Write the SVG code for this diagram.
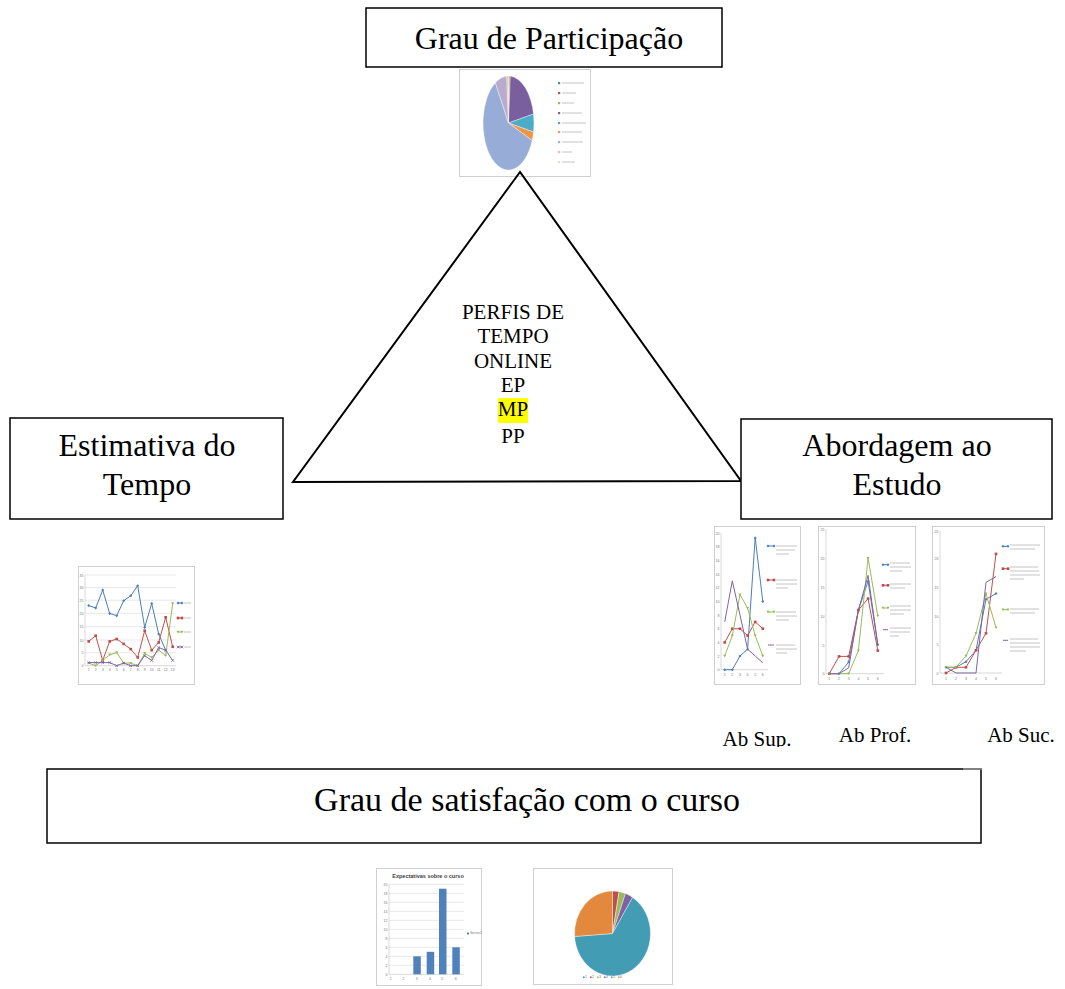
<svg xmlns="http://www.w3.org/2000/svg" width="1065" height="989" viewBox="0 0 1065 989">
<style>
.box{fill:#fff;stroke:#000;stroke-width:1.5}
.lbl{font-family:"Liberation Serif","Times New Roman",serif;font-size:32px;fill:#000;text-anchor:middle}
.lbl2{font-family:"Liberation Serif","Times New Roman",serif;font-size:34px;fill:#000;text-anchor:middle}
.ctr{font-family:"Liberation Serif","Times New Roman",serif;font-size:21px;fill:#000;text-anchor:middle}
.frame{fill:#fff;stroke:#d0d0d0;stroke-width:1}
.grid{stroke:#d9d9d9;stroke-width:0.6;fill:none}
.axis{stroke:#bfbfbf;stroke-width:0.6;fill:none}
.tiny{font-family:"Liberation Sans",Arial,sans-serif;font-size:3.5px;fill:#777}
.leg{stroke:#c4c4c4;stroke-width:1}
.s1{fill:none;stroke:#4a7ebb;stroke-width:1}
.s2{fill:none;stroke:#c0504d;stroke-width:1}
.s3{fill:none;stroke:#9bbb59;stroke-width:1}
.s4{fill:none;stroke:#8064a2;stroke-width:1}
.m1{marker-start:url(#mb);marker-mid:url(#mb);marker-end:url(#mb)}
.m2{marker-start:url(#mr);marker-mid:url(#mr);marker-end:url(#mr)}
.m3{marker-start:url(#mg);marker-mid:url(#mg);marker-end:url(#mg)}
.m4{marker-start:url(#mp);marker-mid:url(#mp);marker-end:url(#mp)}
.slice{stroke:#fff;stroke-width:0.4}
</style>
<defs>
<marker id="mb" markerUnits="userSpaceOnUse" markerWidth="4" markerHeight="4" refX="2" refY="2" viewBox="0 0 4 4"><path d="M2 0.5 L3.5 2 L2 3.5 L0.5 2 Z" fill="#4a7ebb"/></marker>
<marker id="mr" markerUnits="userSpaceOnUse" markerWidth="4" markerHeight="4" refX="2" refY="2" viewBox="0 0 4 4"><rect x="0.7" y="0.7" width="2.6" height="2.6" fill="#be4b48"/></marker>
<marker id="mg" markerUnits="userSpaceOnUse" markerWidth="4" markerHeight="4" refX="2" refY="2" viewBox="0 0 4 4"><path d="M0.5 0.8 L3.5 0.8 L2 3.4 Z" fill="#98b954"/></marker>
<marker id="mp" markerUnits="userSpaceOnUse" markerWidth="4" markerHeight="4" refX="2" refY="2" viewBox="0 0 4 4"><path d="M0.7 0.7 L3.3 3.3 M3.3 0.7 L0.7 3.3" stroke="#7d60a0" stroke-width="0.8"/></marker>
<clipPath id="clipSup"><rect x="700" y="700" width="120" height="47"/></clipPath>
</defs>

<g id="node-participacao">
<rect class="box" x="366" y="8" width="356" height="59"/>
<text class="lbl" x="549" y="49">Grau de Participação</text>
</g>

<g id="chart-participacao">
<rect class="frame" x="459.5" y="69.5" width="131" height="107"/>
<path class="slice" d="M508.5 123 L508.5 76 A25.5 47 0 0 1 510.28 76.11 Z" fill="#9bbb59"/>
<path class="slice" d="M508.5 123 L510.28 76.11 A25.5 47 0 0 1 533.53 114.03 Z" fill="#7a5f9e"/>
<path class="slice" d="M508.5 123 L533.53 114.03 A25.5 47 0 0 1 533.53 131.97 Z" fill="#4aacc6"/>
<path class="slice" d="M508.5 123 L533.53 131.97 A25.5 47 0 0 1 532.14 140.61 Z" fill="#f09446"/>
<path class="slice" d="M508.5 123 L532.14 140.61 A25.5 47 0 1 1 495.37 82.71 Z" fill="#97acd6"/>
<path class="slice" d="M508.5 123 L495.37 82.71 A25.5 47 0 0 1 506.72 76.11 Z" fill="#b9abcd"/>
<path class="slice" d="M508.5 123 L506.72 76.11 A25.5 47 0 0 1 508.5 76 Z" fill="#e6b9b8"/>
<g>
<rect x="558" y="82" width="2.2" height="2.2" fill="#4f81bd"/><line class="leg" x1="562" y1="83" x2="584" y2="83"/>
<rect x="558" y="92" width="2.2" height="2.2" fill="#c0504d"/><line class="leg" x1="562" y1="93" x2="576" y2="93"/>
<rect x="558" y="102" width="2.2" height="2.2" fill="#9bbb59"/><line class="leg" x1="562" y1="103" x2="574" y2="103"/>
<rect x="558" y="112" width="2.2" height="2.2" fill="#8064a2"/><line class="leg" x1="562" y1="113" x2="582" y2="113"/>
<rect x="558" y="122" width="2.2" height="2.2" fill="#4bacc6"/><line class="leg" x1="562" y1="123" x2="586" y2="123"/>
<rect x="558" y="131" width="2.2" height="2.2" fill="#f79646"/><line class="leg" x1="562" y1="132" x2="582" y2="132"/>
<rect x="558" y="141" width="2.2" height="2.2" fill="#95b3d7"/><line class="leg" x1="562" y1="142" x2="583" y2="142"/>
<rect x="558" y="151" width="2.2" height="2.2" fill="#e6b9b8"/><line class="leg" x1="562" y1="152" x2="572" y2="152"/>
<rect x="558" y="161" width="2.2" height="2.2" fill="#d7e4bd"/><line class="leg" x1="562" y1="162" x2="575" y2="162"/>
</g>
</g>

<g id="connectors">
<path d="M520 172 L293 482 L741 481 Z" fill="none" stroke="#000" stroke-width="2" stroke-linejoin="miter"/>
</g>

<g id="node-perfis">
<rect x="498" y="398" width="30" height="25" fill="#ffff00"/>
<text class="ctr" x="513" y="319">PERFIS DE</text>
<text class="ctr" x="513" y="343">TEMPO</text>
<text class="ctr" x="513" y="368">ONLINE</text>
<text class="ctr" x="513" y="392">EP</text>
<text class="ctr" x="513" y="416">MP</text>
<text class="ctr" x="513" y="443">PP</text>
</g>

<g id="node-estimativa">
<rect class="box" x="10" y="418" width="273" height="101"/>
<text class="lbl" x="147" y="456">Estimativa do</text>
<text class="lbl" x="147" y="495">Tempo</text>
</g>

<g id="node-abordagem">
<rect class="box" x="741" y="419" width="311" height="100"/>
<text class="lbl" x="897" y="456">Abordagem ao</text>
<text class="lbl" x="897" y="495">Estudo</text>
</g>

<g id="chart-estimativa">
<rect class="frame" x="78.5" y="566.5" width="116" height="118"/>
<g class="grid">
<line x1="85" y1="575" x2="176" y2="575"/><line x1="85" y1="587.6" x2="176" y2="587.6"/>
<line x1="85" y1="600.2" x2="176" y2="600.2"/><line x1="85" y1="613.3" x2="176" y2="613.3"/>
<line x1="85" y1="626.7" x2="176" y2="626.7"/><line x1="85" y1="640" x2="176" y2="640"/>
<line x1="85" y1="652.8" x2="176" y2="652.8"/>
</g>
<path class="axis" d="M85 575 V665.7 H176"/>
<g class="tiny" text-anchor="end">
<text x="83.5" y="576.5">35</text><text x="83.5" y="589">30</text><text x="83.5" y="601.7">25</text><text x="83.5" y="614.8">20</text><text x="83.5" y="628.2">15</text><text x="83.5" y="641.5">10</text><text x="83.5" y="654.3">5</text><text x="83.5" y="667.2">0</text>
</g>
<g class="tiny" text-anchor="middle">
<text x="88.7" y="671">1</text><text x="95.7" y="671">2</text><text x="102.7" y="671">3</text><text x="109.7" y="671">4</text><text x="116.7" y="671">5</text><text x="123.7" y="671">6</text><text x="130.7" y="671">7</text><text x="137.7" y="671">8</text><text x="144.7" y="671">9</text><text x="151.7" y="671">10</text><text x="158.7" y="671">11</text><text x="165.7" y="671">12</text><text x="172.7" y="671">13</text>
</g>
<polyline class="s1 m1" points="88.7,605.6 95.7,607.9 102.7,590.1 109.7,613.4 116.7,615.7 123.7,600.7 130.7,595.8 137.7,585.7 144.7,627.4 151.7,603.5 158.7,634.1 165.7,650.2"/>
<polyline class="s2 m2" points="88.7,641.4 95.7,635.7 102.7,660.5 109.7,641.4 116.7,639 123.7,643.9 130.7,649.1 137.7,657.4 144.7,630.7 151.7,650.2 158.7,642.4 165.7,617.3 172.7,646.8"/>
<polyline class="s3 m3" points="88.7,663.1 95.7,665.7 102.7,660.5 109.7,654.8 116.7,652.5 123.7,663.1 130.7,663.1 137.7,665.7 144.7,653.3 151.7,657.4 158.7,650.2 165.7,655.6 172.7,603.5"/>
<polyline class="s4 m4" points="88.7,662.6 95.7,662.6 102.7,662.6 109.7,662.6 116.7,665.7 123.7,663.1 130.7,665.7 137.7,665.7 144.7,655.6 151.7,660.5 158.7,647.6 165.7,650.2 172.7,660.5"/>
<g>
<polyline class="s1 m1" points="178,603 182,603"/><line class="leg" x1="184" y1="603" x2="191" y2="603"/>
<polyline class="s2 m2" points="178,618 182,618"/><line class="leg" x1="184" y1="618" x2="191" y2="618"/>
<polyline class="s3 m3" points="178,632 182,632"/><line class="leg" x1="184" y1="632" x2="191" y2="632"/>
<polyline class="s4 m4" points="178,647 182,647"/><line class="leg" x1="184" y1="647" x2="191" y2="647"/>
</g>
</g>

<g id="chart-absup">
<rect class="frame" x="714.5" y="526.5" width="86" height="158"/>
<path class="axis" d="M721 533 V669.7 H768"/>
<g class="tiny" text-anchor="end">
<text x="719.5" y="534.5">20</text><text x="719.5" y="548.2">18</text><text x="719.5" y="561.8">16</text><text x="719.5" y="575.5">14</text><text x="719.5" y="589.2">12</text><text x="719.5" y="602.8">10</text><text x="719.5" y="616.5">8</text><text x="719.5" y="630.2">6</text><text x="719.5" y="643.8">4</text><text x="719.5" y="657.5">2</text><text x="719.5" y="671.2">0</text>
</g>
<g class="tiny" text-anchor="middle">
<text x="724.7" y="676">1</text><text x="732.3" y="676">2</text><text x="740" y="676">3</text><text x="747.6" y="676">4</text><text x="755.2" y="676">5</text><text x="762.8" y="676">6</text>
</g>
<polyline class="s1 m1" points="724.7,669.7 732.3,669.7 740,656 747.6,649.2 755.2,537.9 762.8,601.4"/>
<polyline class="s2 m2" points="724.7,642.4 732.3,628.7 740,628.7 747.6,635.6 755.2,621.9 762.8,628.7"/>
<polyline class="s3 m3" points="724.7,656 732.3,635.6 740,594.6 747.6,608.2 755.2,635.6 762.8,656"/>
<polyline class="s4" points="724.7,621.9 732.3,580.9 740,615.1 747.6,649.2 755.2,656 762.8,662.9"/>
<g>
<polyline class="s1 m1" points="768,546 774,546"/><line class="leg" x1="776" y1="546" x2="797" y2="546"/><line class="leg" x1="776" y1="550" x2="795" y2="550"/><line class="leg" x1="776" y1="554" x2="789" y2="554"/>
<polyline class="s2 m2" points="768,580 774,580"/><line class="leg" x1="776" y1="580" x2="797" y2="580"/><line class="leg" x1="776" y1="584" x2="797" y2="584"/><line class="leg" x1="776" y1="588" x2="788" y2="588"/>
<polyline class="s3 m3" points="768,612 774,612"/><line class="leg" x1="776" y1="612" x2="796" y2="612"/><line class="leg" x1="776" y1="616" x2="797" y2="616"/><line class="leg" x1="776" y1="620" x2="789" y2="620"/>
<polyline class="s4" points="768,645 774,645"/><line class="leg" x1="776" y1="645" x2="795" y2="645"/><line class="leg" x1="776" y1="649" x2="797" y2="649"/><line class="leg" x1="776" y1="653" x2="787" y2="653"/>
</g>
</g>

<g id="chart-abprof">
<rect class="frame" x="818.5" y="526.5" width="97" height="158"/>
<path class="axis" d="M826 529 V673.7 H884"/>
<g class="tiny" text-anchor="end">
<text x="824.5" y="530.5">25</text><text x="824.5" y="560">20</text><text x="824.5" y="588.5">15</text><text x="824.5" y="617.5">10</text><text x="824.5" y="646.5">5</text><text x="824.5" y="675.2">0</text>
</g>
<g class="tiny" text-anchor="middle">
<text x="829.3" y="680">1</text><text x="839" y="680">2</text><text x="848.7" y="680">3</text><text x="858.4" y="680">4</text><text x="868.1" y="680">5</text><text x="877.8" y="680">6</text>
</g>
<polyline class="s1 m1" points="829.3,673.7 839,673.7 848.7,662.1 858.4,610.1 868.1,581.2 877.8,644.8"/>
<polyline class="s2 m2" points="829.3,673.7 839,656.4 848.7,656.4 858.4,610.1 868.1,598.6 877.8,650.6"/>
<polyline class="s3 m3" points="829.3,673.7 839,673.7 848.7,673.7 858.4,650.6 868.1,558.1 877.8,615.9"/>
<polyline class="s4" points="829.3,673.7 839,673.7 848.7,667.9 858.4,610.1 868.1,575.4 877.8,644.8"/>
<g>
<polyline class="s1 m1" points="883,564.7 888,564.7"/><line class="leg" x1="890" y1="563" x2="910" y2="563"/><line class="leg" x1="890" y1="567" x2="911" y2="567"/><line class="leg" x1="890" y1="571" x2="902" y2="571"/>
<polyline class="s2 m2" points="883,585.3 888,585.3"/><line class="leg" x1="890" y1="584" x2="911" y2="584"/><line class="leg" x1="890" y1="588" x2="905" y2="588"/>
<polyline class="s3 m3" points="883,608 888,608"/><line class="leg" x1="890" y1="606" x2="911" y2="606"/><line class="leg" x1="890" y1="610" x2="911" y2="610"/><line class="leg" x1="890" y1="614" x2="904" y2="614"/>
<polyline class="s4" points="883,629.7 888,629.7"/><line class="leg" x1="890" y1="628" x2="911" y2="628"/><line class="leg" x1="890" y1="632" x2="910" y2="632"/><line class="leg" x1="890" y1="636" x2="899" y2="636"/>
</g>
</g>

<g id="chart-absuc">
<rect class="frame" x="932.5" y="526.5" width="112" height="158"/>
<path class="axis" d="M940 531 V673 H1002"/>
<g class="tiny" text-anchor="end">
<text x="938.5" y="532.5">25</text><text x="938.5" y="560">20</text><text x="938.5" y="588.5">15</text><text x="938.5" y="617.5">10</text><text x="938.5" y="646">5</text><text x="938.5" y="674.5">0</text>
</g>
<g class="tiny" text-anchor="middle">
<text x="946" y="679.5">1</text><text x="956" y="679.5">2</text><text x="966" y="679.5">3</text><text x="976" y="679.5">4</text><text x="986" y="679.5">5</text><text x="996" y="679.5">6</text>
</g>
<polyline class="s1 m1" points="946,667.3 956,667.3 966,661.7 976,650.3 986,599.3 996,593.6"/>
<polyline class="s2 m2" points="946,673 956,667.3 966,667.3 976,650.3 986,633.3 996,553.9"/>
<polyline class="s3 m3" points="946,667.3 956,667.3 966,656 976,633.3 986,593.6 996,627.6"/>
<polyline class="s4" points="946,667.3 956,673 966,673 976,673 986,582.3 996,576.6"/>
<g>
<polyline class="s1 m1" points="1003,546.3 1008,546.3"/><line class="leg" x1="1010" y1="545" x2="1040" y2="545"/><line class="leg" x1="1010" y1="549" x2="1035" y2="549"/>
<polyline class="s2 m2" points="1003,568.7 1008,568.7"/><line class="leg" x1="1010" y1="567" x2="1038" y2="567"/><line class="leg" x1="1010" y1="571" x2="1039" y2="571"/><line class="leg" x1="1010" y1="575" x2="1040" y2="575"/><line class="leg" x1="1010" y1="579" x2="1024" y2="579"/>
<polyline class="s3 m3" points="1003,609.7 1008,609.7"/><line class="leg" x1="1010" y1="609" x2="1039" y2="609"/><line class="leg" x1="1010" y1="613" x2="1035" y2="613"/>
<polyline class="s4" points="1003,640.3 1008,640.3"/><line class="leg" x1="1010" y1="639" x2="1038" y2="639"/><line class="leg" x1="1010" y1="643" x2="1040" y2="643"/><line class="leg" x1="1010" y1="647" x2="1040" y2="647"/><line class="leg" x1="1010" y1="651" x2="1026" y2="651"/>
</g>
</g>

<g id="labels-ab">
<text class="ctr" x="757" y="746" clip-path="url(#clipSup)">Ab Sup.</text>
<text class="ctr" x="875" y="742">Ab Prof.</text>
<text class="ctr" x="1021" y="742">Ab Suc.</text>
</g>

<g id="node-satisfacao">
<rect class="box" x="47" y="769" width="934" height="74"/>
<line x1="963" y1="769" x2="981.7" y2="769" stroke="#999" stroke-width="1.5"/>
<text class="lbl2" x="527" y="811">Grau de satisfação com o curso</text>
</g>

<g id="chart-expectativas">
<rect class="frame" x="376.5" y="868.5" width="105" height="117"/>
<text x="428" y="878" font-family="Liberation Sans,Arial,sans-serif" font-size="5.5" font-weight="bold" fill="#404040" text-anchor="middle">Expectativas sobre o curso</text>
<g class="grid">
<line x1="389" y1="884.3" x2="464" y2="884.3"/><line x1="389" y1="893.3" x2="464" y2="893.3"/><line x1="389" y1="902.3" x2="464" y2="902.3"/><line x1="389" y1="911.3" x2="464" y2="911.3"/><line x1="389" y1="920.3" x2="464" y2="920.3"/><line x1="389" y1="929.3" x2="464" y2="929.3"/><line x1="389" y1="938.3" x2="464" y2="938.3"/><line x1="389" y1="947.3" x2="464" y2="947.3"/><line x1="389" y1="956.3" x2="464" y2="956.3"/><line x1="389" y1="965.3" x2="464" y2="965.3"/>
</g>
<path class="axis" d="M389 884.3 V974.3 H464"/>
<g class="tiny" text-anchor="end">
<text x="387.5" y="885.5">20</text><text x="387.5" y="894.5">18</text><text x="387.5" y="903.5">16</text><text x="387.5" y="912.5">14</text><text x="387.5" y="921.5">12</text><text x="387.5" y="930.5">10</text><text x="387.5" y="939.5">8</text><text x="387.5" y="948.5">6</text><text x="387.5" y="957.5">4</text><text x="387.5" y="966.5">2</text><text x="387.5" y="975.5">0</text>
</g>
<g class="tiny" text-anchor="middle">
<text x="390.7" y="980">1</text><text x="403.3" y="980">2</text><text x="416.7" y="980">3</text><text x="430" y="980">4</text><text x="442.3" y="980">5</text><text x="455.7" y="980">6</text>
</g>
<g fill="#4f81bd">
<rect x="413.3" y="956.3" width="7.5" height="18"/>
<rect x="426.7" y="951.8" width="7.5" height="22.5"/>
<rect x="439" y="888.7" width="7.5" height="85.6"/>
<rect x="452.3" y="947.3" width="7.5" height="27"/>
</g>
<rect x="467" y="932.5" width="2" height="2" fill="#4f81bd"/>
<text class="tiny" x="470" y="934.3">Series1</text>
</g>

<g id="chart-satisfacao-pie">
<rect class="frame" x="533.5" y="868.5" width="139" height="116"/>
<path class="slice" d="M612.5 933.5 L612.5 891 A38 42.5 0 0 1 619.1 891.65 Z" fill="#c0504d"/>
<path class="slice" d="M612.5 933.5 L619.1 891.65 A38 42.5 0 0 1 625.5 893.56 Z" fill="#9bbb59"/>
<path class="slice" d="M612.5 933.5 L625.5 893.56 A38 42.5 0 0 1 632.64 897.46 Z" fill="#7f62a1"/>
<path class="slice" d="M612.5 933.5 L632.64 897.46 A38 42.5 0 1 1 574.59 936.47 Z" fill="#419cb4"/>
<path class="slice" d="M612.5 933.5 L574.59 936.47 A38 42.5 0 0 1 612.5 891 Z" fill="#e2893e"/>
<g class="tiny">
<rect x="583" y="976.5" width="1.6" height="1.6" fill="#4f81bd"/><text x="585" y="978.3">1</text>
<rect x="590" y="976.5" width="1.6" height="1.6" fill="#c0504d"/><text x="592" y="978.3">2</text>
<rect x="597" y="976.5" width="1.6" height="1.6" fill="#9bbb59"/><text x="599" y="978.3">3</text>
<rect x="604" y="976.5" width="1.6" height="1.6" fill="#8064a2"/><text x="606" y="978.3">4</text>
<rect x="611" y="976.5" width="1.6" height="1.6" fill="#4bacc6"/><text x="613" y="978.3">5</text>
<rect x="618" y="976.5" width="1.6" height="1.6" fill="#f79646"/><text x="620" y="978.3">6</text>
</g>
</g>
</svg>
